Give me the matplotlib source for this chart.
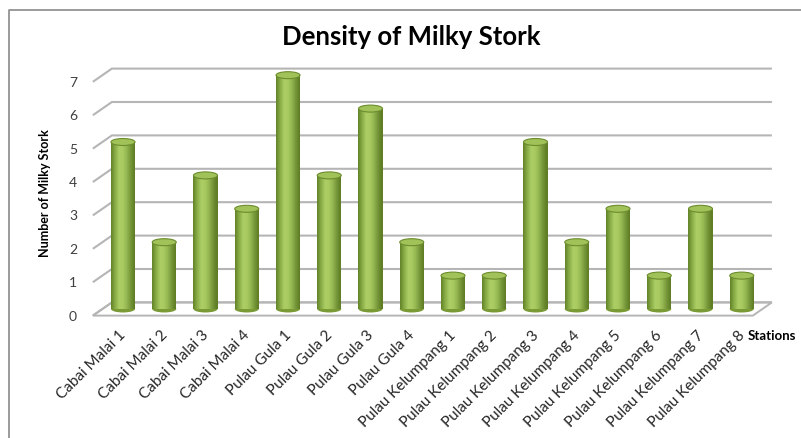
import numpy as np
import matplotlib
matplotlib.use("Agg")
import matplotlib.pyplot as plt
from matplotlib.patches import Ellipse, Polygon
from matplotlib.lines import Line2D
from matplotlib.colors import LinearSegmentedColormap

plt.rcParams['font.family'] = ['Lato', 'DejaVu Sans']

# data
stations = ["Cabai Malai 1", "Cabai Malai 2", "Cabai Malai 3", "Cabai Malai 4",
            "Pulau Gula 1", "Pulau Gula 2", "Pulau Gula 3", "Pulau Gula 4",
            "Pulau Kelumpang 1", "Pulau Kelumpang 2", "Pulau Kelumpang 3",
            "Pulau Kelumpang 4", "Pulau Kelumpang 5", "Pulau Kelumpang 6",
            "Pulau Kelumpang 7", "Pulau Kelumpang 8"]
counts = [5, 2, 4, 3, 7, 4, 6, 2, 1, 1, 5, 2, 3, 1, 3, 1]
yticks = [0, 1, 2, 3, 4, 5, 6, 7]

W, H = 801, 439
fig = plt.figure(figsize=(W / 100, H / 100), dpi=100)
ax = fig.add_axes([0, 0, 1, 1])
ax.axis('off')

# pixel mapping of the "middle" plane: x_px = x0 + sx*i, y_px = y0 - sy*v
x0, sx = 123.0, 41.25
y0, sy = 310.0, 33.4
ax.set_xlim(-x0 / sx, (W - x0) / sx)
ax.set_ylim((y0 - H) / sy, y0 / sy)

dx = 9.5 / sx      # depth offset in x
dy = 6.6 / sy      # depth offset in y
n = len(stations)
xl, xr = -0.5, n - 0.5
idx = np.arange(n)

grid_col = '#b5b5b5'

# floor
floor = Polygon([(xl - dx, -dy), (xr - dx, -dy), (xr + dx, dy), (xl + dx, dy)],
                closed=True, facecolor='white', edgecolor=grid_col, lw=1.4, zorder=1)
ax.add_patch(floor)

# walls / gridlines
for v in yticks:
    ax.plot([xl - dx, xl + dx, xr + dx], [v - dy, v + dy, v + dy],
            color=grid_col, lw=1.5, zorder=1, solid_capstyle='butt')
    ax.text(xl - dx - 0.48, v - dy, str(v), ha='center', va='center',
            fontsize=10, color='#404040')

# cylinders
bw = 24 / sx
eh = 7 / sy
cmap = LinearSegmentedColormap.from_list(
    'cyl', ['#66862a', '#8aad47', '#abcd64', '#a8ca60', '#93b650', '#76963a', '#5f7e25'])
nstrip = 24
sw = bw / nstrip
for k in range(nstrip):
    off = -bw / 2 + sw * (k + 0.5)
    ax.bar(idx + off, counts, width=sw * 1.05, bottom=0,
           color=cmap(k / (nstrip - 1)), lw=0, zorder=3)

for i, v in enumerate(counts):
    ax.add_patch(Ellipse((i, 0), bw, eh, facecolor='#7a9a36', edgecolor='none', zorder=2.5))
    ax.add_patch(Ellipse((i, v), bw, eh, facecolor='#a0c258',
                         edgecolor='#6c8c2e', lw=0.8, zorder=4))

# category labels
for i, s in enumerate(stations):
    ax.text(i - 0.1, -0.55, s, rotation=45, rotation_mode='anchor',
            ha='right', va='top', fontsize=11, color='#262626')

ax.text((748 - x0) / sx, (y0 - 336) / sy, "Stations", ha='left', va='center',
        fontsize=9.5, fontweight='bold', color='black')

ax.text((45 - x0) / sx, (y0 - 193) / sy, "Number of Milky Stork", rotation=90,
        ha='center', va='center', fontsize=9, fontweight='bold', color='black')

ax.text((411 - x0) / sx, (y0 - 37) / sy, "Density of Milky Stork",
        ha='center', va='center', fontsize=18.5, fontweight='bold', color='black')

# chart border (left + top visible)
bx = 8.5 / W
by = 1 - 11 / H
fig.add_artist(Line2D([bx, bx, 1.0], [0.0, by, by], transform=fig.transFigure,
                      color='#8a8a8a', lw=1.2))

fig.savefig("out.png", dpi=100)
